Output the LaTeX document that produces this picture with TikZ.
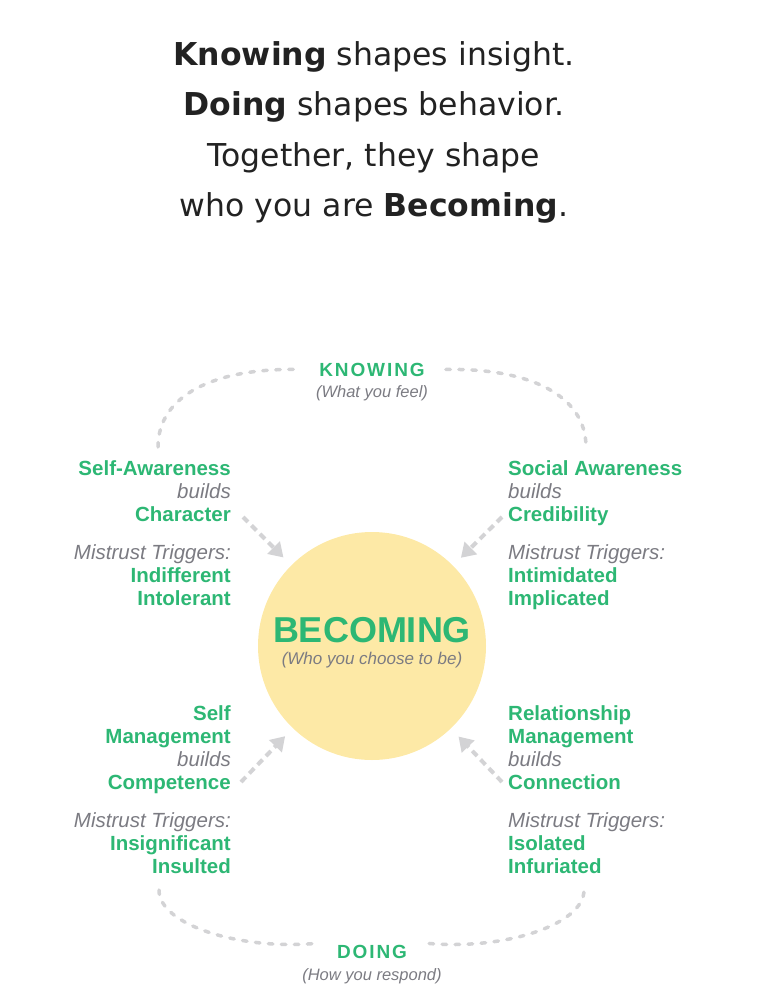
\documentclass[tikz,border=0pt]{standalone}
\usepackage{fontspec}
\setmainfont{Liberation Sans}
\newfontfamily\titlefont{DejaVu Sans}
\usetikzlibrary{arrows.meta,positioning}

\definecolor{becGreen}{HTML}{2DB774}
\definecolor{noteGray}{HTML}{7B7B82}
\definecolor{dashGray}{HTML}{D3D3D5}
\definecolor{circFill}{HTML}{FDE9A6}
\definecolor{titleInk}{HTML}{222222}

\newcommand{\keyw}[1]{\textcolor{becGreen}{\textbf{#1}}}
\newcommand{\soft}[1]{\textcolor{noteGray}{\textit{#1}}}

\begin{document}
\begin{tikzpicture}[
		x=1pt,y=-1pt,
		headline/.style={
			font=\titlefont\fontsize{31.5}{50.5}\selectfont,
			text=titleInk,
			align=center,
			inner sep=0
		},
		block/.style={
			inner sep=0,
			font=\fontsize{20.5}{23}\selectfont
		},
		lblock/.style={block, align=right, anchor=base east},
		rblock/.style={block, align=left, anchor=base west},
		pole/.style={
			text=becGreen,
			inner sep=0,
			anchor=base,
			font=\fontsize{19}{19}\selectfont\bfseries\addfontfeature{LetterSpace=10}
		},
		sub/.style={
			text=noteGray,
			inner sep=0,
			anchor=base,
			font=\fontsize{16.5}{16.5}\selectfont\itshape
		},
		loopline/.style={
			draw=dashGray,
			line width=3.5pt,
			line cap=round,
			dash pattern=on 4.5pt off 8.5pt
		},
		flow/.style={
			draw=dashGray,
			line width=4pt,
			dash pattern=on 7pt off 5pt,
			-{Triangle[width=17pt,length=14pt]},
			shorten >=11pt
		}
		]
		\useasboundingbox (0,0) rectangle (759,1000);
		
		% Heading (anchored on its last line)
		\node[headline, anchor=base] (head) at (374,217)
		{\textbf{Knowing} shapes insight.\\
			\textbf{Doing} shapes behavior.\\
			Together, they shape\\
			who you are \textbf{Becoming}.};
		
		% Centre
		\node[circle, fill=circFill, minimum size=228pt, inner sep=0] (becoming) at (372,646) {};
		\node[inner sep=0, anchor=base, text=becGreen, font=\fontsize{36}{36}\selectfont\bfseries] (becTitle) at (372,642) {BECOMING};
		\node[sub, font=\fontsize{17}{17}\selectfont\itshape] (becSub) at (372,664) {(Who you choose to be)};
		
		% Poles
		\node[pole] (knowTitle) at (372,376) {KNOWING};
		\node[sub] (knowSub) at (372,397) {(What you feel)};
		\node[pole] (doTitle) at (372,958) {DOING};
		\node[sub] (doSub) at (372,980) {(How you respond)};
		
		% Dashed loops
		\coordinate (kL) at (158,447);
		\coordinate (kR) at (586,447);
		\coordinate (dL) at (159,890);
		\coordinate (dR) at (584,890);
		\draw[loopline] (kL) .. controls (158,395) and (215,368) .. ([xshift=-21pt]knowTitle.west);
		\draw[loopline] ([xshift=21pt]knowTitle.east) .. controls (529,368) and (586,395) .. (kR);
		\draw[loopline] (dL) .. controls (159,925) and (240,950) .. ([xshift=-22pt,yshift=8pt]doTitle.west);
		\draw[loopline] ([xshift=22pt,yshift=8pt]doTitle.east) .. controls (504,950) and (584,925) .. (dR);
		
		% Self-Awareness (blocks anchored on their last line)
		\node[lblock] (sawBuilds) at (231,521)
		{\keyw{Self-Awareness}\\\soft{builds}\\\keyw{Character}};
		\node[lblock] (sawTrig) at (231,605)
		{\soft{Mistrust Triggers:}\\\keyw{Indifferent}\\\keyw{Intolerant}};
		
		% Social Awareness
		\node[rblock] (socBuilds) at (508,521)
		{\keyw{Social Awareness}\\\soft{builds}\\\keyw{Credibility}};
		\node[rblock] (socTrig) at (508,605)
		{\soft{Mistrust Triggers:}\\\keyw{Intimidated}\\\keyw{Implicated}};
		
		% Self Management
		\node[lblock] (smBuilds) at (231,789)
		{\keyw{Self}\\\keyw{Management}\\\soft{builds}\\\keyw{Competence}};
		\node[lblock] (smTrig) at (231,873)
		{\soft{Mistrust Triggers:}\\\keyw{Insignificant}\\\keyw{Insulted}};
		
		% Relationship Management
		\node[rblock] (rmBuilds) at (508,789)
		{\keyw{Relationship}\\\keyw{Management}\\\soft{builds}\\\keyw{Connection}};
		\node[rblock] (rmTrig) at (508,873)
		{\soft{Mistrust Triggers:}\\\keyw{Isolated}\\\keyw{Infuriated}};
		
		% Arrows into the circle
		\coordinate (sawArr) at (243,517);
		\coordinate (socArr) at (502,517);
		\coordinate (smArr) at (241,782);
		\coordinate (rmArr) at (502,782);
		\draw[flow] (sawArr) -- (becoming);
		\draw[flow] (socArr) -- (becoming);
		\draw[flow] (smArr) -- (becoming);
		\draw[flow] (rmArr) -- (becoming);
	\end{tikzpicture}
\end{document}
